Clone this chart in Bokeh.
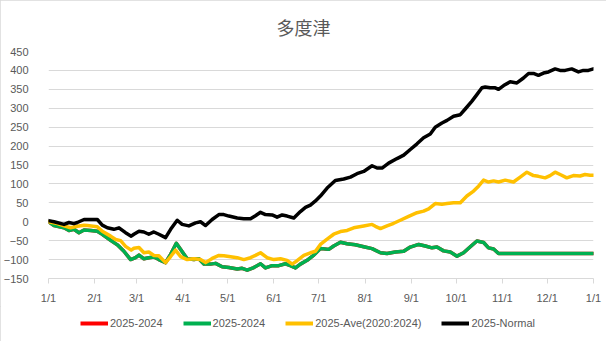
import pandas as pd
from bokeh.plotting import figure
from bokeh.layouts import column
from bokeh.models import FixedTicker, Legend, LegendItem, ColumnDataSource, Range1d
from bokeh.embed import file_html
from bokeh.resources import INLINE

title_text = "多度津"
tick_labels = ["1/1", "2/1", "3/1", "4/1", "5/1", "6/1", "7/1", "8/1",
               "9/1", "10/1", "11/1", "12/1", "1/1"]
y_ticks = [-150, -100, -50, 0, 50, 100, 150, 200, 250, 300, 350, 400, 450]

# days since 2025-01-01
normal_days = [0, 3.7, 10.4, 13.7, 17, 19.3, 23.8, 32.7, 36, 39.4, 43.8, 47.2, 51.6, 55.4,
               57.2, 60.6, 63.9, 67.2, 70.6, 73.9, 78.4, 81.8, 86.2, 89.5, 94, 98.5, 101.8,
               105.2, 109.6, 114.1, 117.4, 120.8, 126.4, 130.8, 135.3, 138.6, 142, 145.3,
               149.8, 153.1, 156.5, 159.8, 164.3, 168.7, 172.1, 175.4, 178.8, 182.1, 186.6,
               192.1, 197.7, 202.2, 206.6, 211.1, 216.7, 220, 223.4, 227.8, 233.4, 237.9,
               242.3, 246.8, 251.2, 255.7, 259, 263.5, 266.9, 271.3, 275.8, 279.1, 283.6,
               286.9, 290.3, 292.5, 295.8, 299.2, 301.4, 304.8, 309.2, 313.7, 318.1, 321.5,
               324.8, 328.1, 331.5, 334.8, 339.3, 342.6, 346, 350.4, 354.9, 358.2, 361.6, 364.9]
normal_vals = [3, 0, -7, -2, -5, -2, 6, 6, -9, -16, -20, -16, -29, -38,
               -33, -25, -27, -33, -27, -33, -42, -20, 4, -7, -11, -3, 0,
               -10, 6, 19, 19, 15, 10, 8, 8, 16, 25, 19,
               18, 12, 18, 15, 10, 27, 38, 44, 55, 68, 89,
               109, 113, 118, 127, 133, 148, 142, 142, 155, 167, 176,
               191, 206, 222, 232, 250, 261, 268, 279, 283, 298, 319,
               336, 354, 356, 354, 354, 350, 360, 370, 367, 380, 392,
               392, 387, 393, 396, 404, 400, 400, 404, 396, 400, 400, 404]

ave_days = [0, 5.9, 10.4, 14.8, 19.3, 23.8, 26, 32.7, 36, 41.6, 45, 48.3, 51.6, 55.4,
            57.2, 60.6, 63.9, 67.2, 70.6, 73.9, 78.4, 81.8, 85.1, 88.4, 92.9, 97.4, 101.8,
            105.2, 109.6, 114.1, 117.4, 120.8, 126.4, 130.8, 135.3, 138.6, 142, 146.4,
            150.9, 155.4, 159.8, 163.2, 166.5, 171, 175.4, 178.8, 182.1, 186.6, 191,
            195.5, 200, 204.4, 211.1, 216.7, 218.9, 222.3, 226.7, 231.2, 235.6, 241.2,
            246.8, 251.2, 254.6, 259, 263.5, 266.9, 271.3, 275.8, 280.2, 284.7, 288,
            291.4, 294.7, 298.1, 301.4, 305.9, 311.4, 315.9, 320.4, 324.8, 328.1, 332.6,
            335.9, 339.3, 343.7, 347.1, 351.5, 356, 359.3, 362.7, 364.9]
ave_vals = [0, -5, -11, -16, -12, -9, -10, -13, -25, -38, -47, -50, -65, -75,
            -70, -68, -82, -80, -89, -90, -108, -92, -75, -92, -100, -98, -100,
            -108, -97, -89, -90, -92, -95, -100, -95, -89, -82, -95,
            -100, -98, -102, -112, -103, -89, -82, -78, -60, -46, -33,
            -26, -23, -16, -11, -7, -12, -18, -11, -4, 4, 14,
            24, 28, 34, 48, 46, 48, 50, 50, 68, 81, 94,
            110, 105, 108, 105, 110, 105, 118, 131, 122, 120, 116,
            122, 131, 123, 116, 122, 121, 125, 123, 123]

diff_days = [0, 3.7, 10.4, 13.7, 17, 20.4, 23.8, 28.3, 32.7, 36, 41.6, 46.1, 50.5, 55,
             58.3, 60.6, 63.9, 67.2, 70.6, 73.9, 78.4, 81.8, 85.6, 88.4, 92.9, 97.4, 100.7,
             104.1, 108.5, 111.9, 116.3, 120.8, 126.4, 129.7, 133.1, 137.5, 142, 145.3,
             149.8, 154.2, 158.7, 162, 165.4, 168.7, 173.2, 177.7, 182.1, 187.7, 191,
             195.5, 200, 205.5, 211.1, 216.7, 222.3, 226.7, 232.3, 237.9, 242.3, 247.9,
             252.4, 256.8, 260.2, 264.6, 269.1, 273.6, 278, 282.5, 286.9, 291.4, 294.7,
             298.1, 301.4, 330, 364.9]
diff_vals = [0, -10, -16, -23, -20, -29, -22, -23, -25, -33, -49, -61, -78, -100,
             -95, -88, -98, -95, -93, -100, -108, -86, -57, -73, -98, -100, -98,
             -112, -112, -110, -119, -121, -125, -123, -128, -121, -111, -122,
             -116, -116, -111, -116, -122, -112, -102, -88, -71, -73, -64,
             -54, -58, -61, -66, -71, -82, -84, -80, -78, -67, -60,
             -64, -69, -67, -77, -80, -91, -82, -66, -51, -55, -69,
             -72, -84, -84, -84]

# the red 2025-2024 series coincides with the green one
red_days = diff_days
red_vals = diff_vals

series = [
    ("2025-2024", red_days, red_vals, "#FF0000"),
    ("2025-2024", diff_days, diff_vals, "#00B050"),
    ("2025-Ave(2020:2024)", ave_days, ave_vals, "#FFC000"),
    ("2025-Normal", normal_days, normal_vals, "#000000"),
]

month_starts = pd.date_range("2025-01-01", "2026-01-01", freq="MS")
tick_days = [int((d - month_starts[0]).days) for d in month_starts]

p = figure(frame_width=545, frame_height=227, x_range=(0, 365), y_range=(-150, 450),
           output_backend="svg", toolbar_location=None,
           min_border_left=45, min_border_right=16, min_border_top=51, min_border_bottom=26,
           background_fill_color="white", border_fill_color="white")
p.outline_line_color = None

p.title.text = title_text
p.title.align = "left"
p.title.offset = 228
p.title.standoff = 23
p.title.text_font = "Noto Sans CJK JP"
p.title.text_font_size = "18px"
p.title.text_font_style = "normal"
p.title.text_color = "#595959"

p.xgrid.grid_line_color = None
p.ygrid.grid_line_color = "#d9d9d9"
p.ygrid.ticker = FixedTicker(ticks=y_ticks)

p.yaxis.ticker = FixedTicker(ticks=y_ticks)
p.yaxis.axis_line_color = None
p.yaxis.major_tick_line_color = None
p.yaxis.minor_tick_line_color = None
p.yaxis.major_label_standoff = 14
p.yaxis.major_label_text_font = "Liberation Sans"
p.yaxis.major_label_text_font_size = "11px"
p.yaxis.major_label_text_color = "#595959"

p.xaxis.ticker = FixedTicker(ticks=tick_days)
p.xaxis.major_label_overrides = {d: lab for d, lab in zip(tick_days, tick_labels)}
p.xaxis.axis_line_color = "#d9d9d9"
p.xaxis.major_tick_line_color = "#d9d9d9"
p.xaxis.major_tick_in = 0
p.xaxis.major_tick_out = 5
p.xaxis.minor_tick_line_color = None
p.xaxis.major_label_standoff = 8
p.xaxis.major_label_text_font = "Liberation Sans"
p.xaxis.major_label_text_font_size = "11px"
p.xaxis.major_label_text_color = "#595959"

# legend strip below the chart (its own ranges keep the series out of view)
pl = figure(width=606, height=37, output_backend="svg", toolbar_location=None,
            x_range=Range1d(-1000, -999), y_range=Range1d(-1000, -999),
            min_border=0, background_fill_color="white", border_fill_color="white")
pl.outline_line_color = None
pl.axis.visible = False
pl.grid.visible = False

items = []
for name, xs, ys, color in series:
    src = ColumnDataSource(dict(x=xs, y=ys))
    p.line("x", "y", source=src, line_color=color, line_width=3.5,
           line_join="round", line_cap="round")
    lr = pl.line("x", "y", source=src, line_color=color, line_width=4)
    items.append(LegendItem(label=name, renderers=[lr]))

legend = Legend(items=items, orientation="horizontal", location=(32, 12),
                spacing=20, padding=0, margin=0, glyph_width=28, glyph_height=16,
                label_height=16, label_standoff=2,
                label_text_font="Liberation Sans", label_text_font_size="11px",
                label_text_color="#595959", border_line_color=None,
                background_fill_alpha=0)
pl.add_layout(legend, "center")

layout = column(p, pl, spacing=0)
layout.styles = {"outline": "1px solid #d9d9d9", "outline-offset": "-1px"}

open("out.html", "w").write(file_html(layout, INLINE))
